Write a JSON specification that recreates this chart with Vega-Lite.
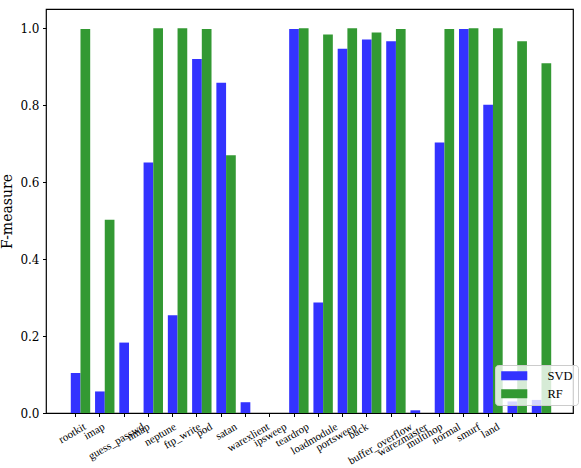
{
  "$schema": "https://vega.github.io/schema/vega-lite/v6.json",
  "width": 527,
  "height": 404,
  "autosize": {"type": "none"},
  "padding": {"left": 46, "top": 9, "right": 8, "bottom": 55},
  "background": "white",
  "config": {
    "view": {"stroke": "black", "strokeWidth": 1.2},
    "axis": {
      "labelFont": "Liberation Serif",
      "titleFont": "Liberation Serif",
      "labelColor": "black",
      "titleColor": "black",
      "tickColor": "black",
      "domain": false,
      "grid": false,
      "tickSize": 3.5,
      "tickWidth": 1
    }
  },
  "data": {
    "values": [
      {"attack": "rootkit", "method": "SVD", "f": 0.104},
      {"attack": "rootkit", "method": "RF", "f": 0.998},
      {"attack": "imap", "method": "SVD", "f": 0.056},
      {"attack": "imap", "method": "RF", "f": 0.502},
      {"attack": "guess_passwd", "method": "SVD", "f": 0.183},
      {"attack": "guess_passwd", "method": "RF", "f": 0},
      {"attack": "nmap", "method": "SVD", "f": 0.651},
      {"attack": "nmap", "method": "RF", "f": 1.0},
      {"attack": "neptune", "method": "SVD", "f": 0.254},
      {"attack": "neptune", "method": "RF", "f": 1.0},
      {"attack": "ftp_write", "method": "SVD", "f": 0.92},
      {"attack": "ftp_write", "method": "RF", "f": 0.998},
      {"attack": "pod", "method": "SVD", "f": 0.858},
      {"attack": "pod", "method": "RF", "f": 0.67},
      {"attack": "satan", "method": "SVD", "f": 0.028},
      {"attack": "satan", "method": "RF", "f": 0},
      {"attack": "warexlient", "method": "SVD", "f": 0},
      {"attack": "warexlient", "method": "RF", "f": 0},
      {"attack": "ipsweep", "method": "SVD", "f": 0.998},
      {"attack": "ipsweep", "method": "RF", "f": 1.0},
      {"attack": "teardrop", "method": "SVD", "f": 0.287},
      {"attack": "teardrop", "method": "RF", "f": 0.984},
      {"attack": "loadmodule", "method": "SVD", "f": 0.947},
      {"attack": "loadmodule", "method": "RF", "f": 1.0},
      {"attack": "portsweep", "method": "SVD", "f": 0.971},
      {"attack": "portsweep", "method": "RF", "f": 0.989},
      {"attack": "back", "method": "SVD", "f": 0.966},
      {"attack": "back", "method": "RF", "f": 0.998},
      {"attack": "buffer_overflow", "method": "SVD", "f": 0.007},
      {"attack": "buffer_overflow", "method": "RF", "f": 0},
      {"attack": "warezmaster", "method": "SVD", "f": 0.703},
      {"attack": "warezmaster", "method": "RF", "f": 0.998},
      {"attack": "multihop", "method": "SVD", "f": 0.998},
      {"attack": "multihop", "method": "RF", "f": 1.0},
      {"attack": "normal", "method": "SVD", "f": 0.801},
      {"attack": "normal", "method": "RF", "f": 1.0},
      {"attack": "smurf", "method": "SVD", "f": 0.03},
      {"attack": "smurf", "method": "RF", "f": 0.966},
      {"attack": "land", "method": "SVD", "f": 0.034},
      {"attack": "land", "method": "RF", "f": 0.909}
    ]
  },
  "mark": {"type": "bar"},
  "encoding": {
    "x": {
      "field": "attack",
      "type": "nominal",
      "sort": null,
      "scale": {"paddingInner": 0, "paddingOuter": 0.86, "align": 0.594},
      "axis": {
        "title": null,
        "bandPosition": 0.2,
        "labelAngle": -30,
        "labelAlign": "right",
        "labelBaseline": "top",
        "labelFontSize": 11,
        "labelPadding": 4,
        "labelOffset": {
          "condition": [
            {"test": "datum.value === 'rootkit'", "value": -0.75},
            {"test": "datum.value === 'imap'", "value": -6.2},
            {"test": "datum.value === 'guess_passwd'", "value": 9.1},
            {"test": "datum.value === 'nmap'", "value": -9.6},
            {"test": "datum.value === 'neptune'", "value": -7.4},
            {"test": "datum.value === 'ftp_write'", "value": -7.3},
            {"test": "datum.value === 'pod'", "value": -19.9},
            {"test": "datum.value === 'satan'", "value": -19.5},
            {"test": "datum.value === 'warexlient'", "value": -11.4},
            {"test": "datum.value === 'ipsweep'", "value": -18.2},
            {"test": "datum.value === 'teardrop'", "value": -20.2},
            {"test": "datum.value === 'loadmodule'", "value": -15.8},
            {"test": "datum.value === 'portsweep'", "value": -21},
            {"test": "datum.value === 'back'", "value": -33.8},
            {"test": "datum.value === 'buffer_overflow'", "value": -13.9},
            {"test": "datum.value === 'warezmaster'", "value": -23.3},
            {"test": "datum.value === 'multihop'", "value": -32.4},
            {"test": "datum.value === 'normal'", "value": -38.4},
            {"test": "datum.value === 'smurf'", "value": -43},
            {"test": "datum.value === 'land'", "value": -48.2}
          ],
          "value": 0
        }
      }
    },
    "xOffset": {
      "field": "method",
      "type": "nominal",
      "scale": {"domain": ["SVD", "RF"], "paddingInner": 0, "paddingOuter": 0.25, "align": 0}
    },
    "y": {
      "field": "f",
      "type": "quantitative",
      "scale": {"domain": [0, 1.05], "nice": false},
      "axis": {
        "values": [0, 0.2, 0.4, 0.6, 0.8, 1.0],
        "format": ".1f",
        "title": "F-measure",
        "labelFont": "DejaVu Serif",
        "labelFontSize": 12,
        "labelPadding": 3.5,
        "titleFont": "DejaVu Serif",
        "titleFontSize": 14,
        "titleFontWeight": "normal",
        "titlePadding": 5
      }
    },
    "color": {
      "field": "method",
      "type": "nominal",
      "scale": {"domain": ["SVD", "RF"], "range": ["#3333ff", "#339933"]},
      "legend": {
        "title": null,
        "orient": "none",
        "legendX": 449,
        "legendY": 356,
        "symbolType": "M-2.9,-1H2.9V1H-2.9Z",
        "symbolSize": 81,
        "symbolOffset": 8.5,
        "labelOffset": 27,
        "labelFont": "Liberation Serif",
        "labelFontSize": 12.5,
        "labelColor": "black",
        "rowPadding": 5,
        "padding": 4.5,
        "fillColor": "rgba(255,255,255,0.8)",
        "strokeColor": "#cccccc",
        "cornerRadius": 3,
        "symbolStrokeWidth": 0,
        "symbolOpacity": 1
      }
    }
  }
}
